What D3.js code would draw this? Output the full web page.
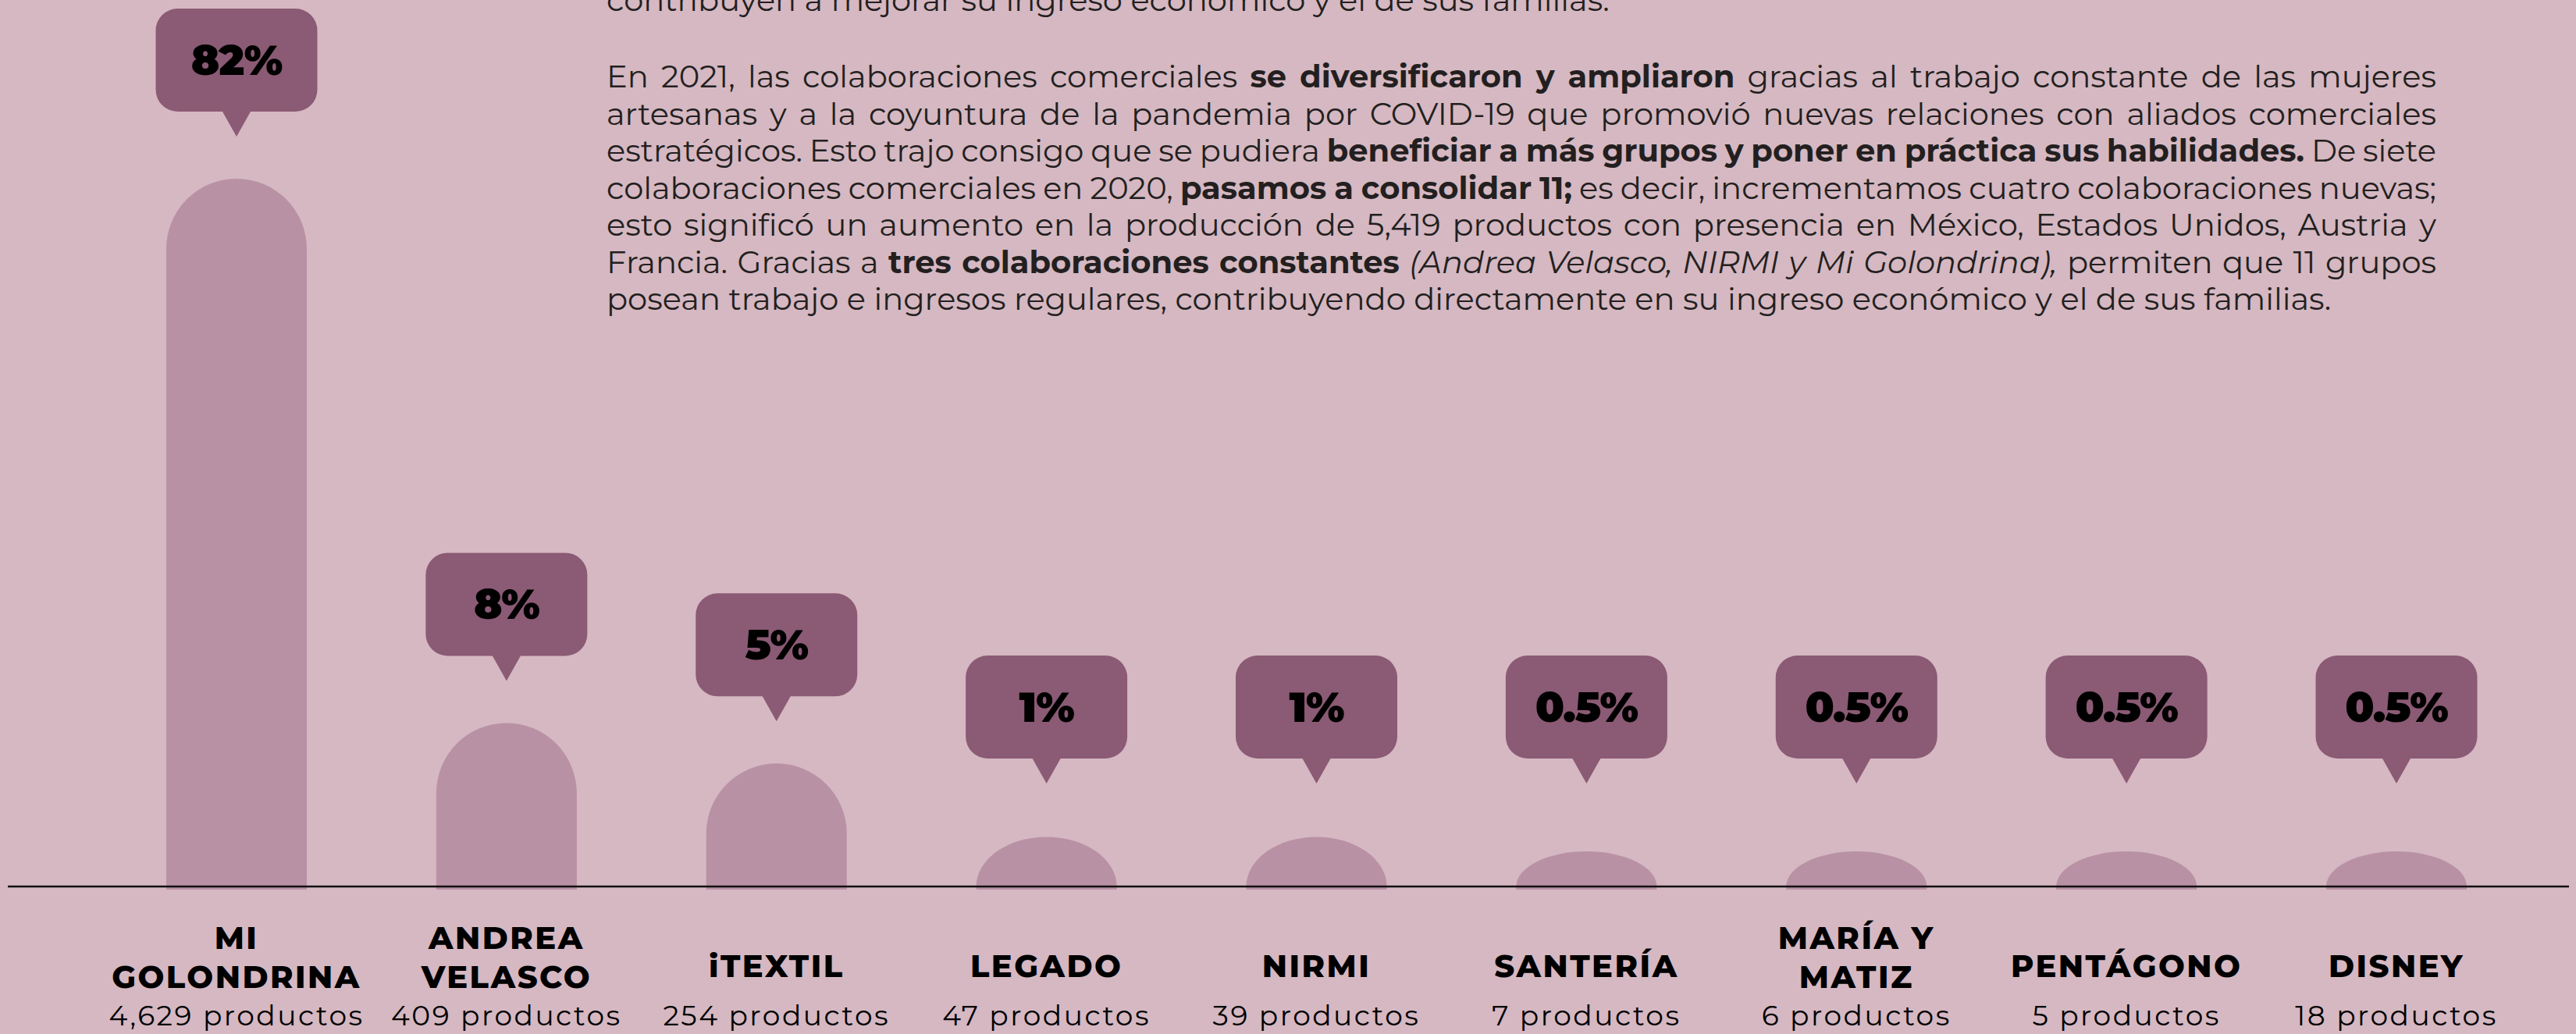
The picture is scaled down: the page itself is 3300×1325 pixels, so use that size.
<!DOCTYPE html>
<html>
<head>
<meta charset="utf-8">
<script src="https://cdn.jsdelivr.net/npm/d3@7"></script>
<style>
  html, body { margin: 0; padding: 0; background: #d5b8c2; overflow: hidden; }
</style>
</head>
<body>
<div id="chart"></div>
<script>
// collaborations, share of production and number of products
const categories = ['MI\nGOLONDRINA', 'ANDREA\nVELASCO', 'iTEXTIL', 'LEGADO', 'NIRMI', 'SANTERÍA', 'MARÍA Y\nMATIZ', 'PENTÁGONO', 'DISNEY'];
const shares = [82, 8, 5, 1, 1, 0.5, 0.5, 0.5, 0.5];
const products = [4629, 409, 254, 47, 39, 7, 6, 5, 18];

// text above the chart (n = normal, b = bold, i = italic)
const introLine = 'contribuyen a mejorar su ingreso económico y el de sus familias.';
const paragraphLines = [
  [['En 2021, las colaboraciones comerciales ', 'n'], ['se diversificaron y ampliaron', 'b'], [' gracias al trabajo constante de las mujeres', 'n']],
  [['artesanas y a la coyuntura de la pandemia por COVID-19 que promovió nuevas relaciones con aliados comerciales', 'n']],
  [['estratégicos. Esto trajo consigo que se pudiera ', 'n'], ['beneficiar a más grupos y poner en práctica sus habilidades.', 'b'], [' De siete', 'n']],
  [['colaboraciones comerciales en 2020, ', 'n'], ['pasamos a consolidar 11;', 'b'], [' es decir, incrementamos cuatro colaboraciones nuevas;', 'n']],
  [['esto significó un aumento en la producción de 5,419 productos con presencia en México, Estados Unidos, Austria y', 'n']],
  [['Francia. Gracias a ', 'n'], ['tres colaboraciones constantes', 'b'], [' ', 'n'], ['(Andrea Velasco, NIRMI y Mi Golondrina),', 'i'], [' permiten que 11 grupos', 'n']],
  [['posean trabajo e ingresos regulares, contribuyendo directamente en su ingreso económico y el de sus familias.', 'n']]
];

const W = 3300, H = 1325;
const baseline = 1136;
const bgColor = '#d5b8c2', barColor = '#b991a4', bubbleColor = '#8b5a74', inkColor = '#231f20';
const textFont = "Montserrat, 'Open Sans', sans-serif";

const rows = categories.map((c, i) => ({ name: c, share: shares[i], products: products[i] }));

const svg = d3.select('#chart').append('svg')
  .attr('width', W)
  .attr('height', H);

svg.append('rect').attr('width', W).attr('height', H).attr('fill', bgColor);

// ---- paragraph ----
const textX = 777, textW = 2344, firstBase = 112, lineH = 47.5;
const para = svg.append('g')
  .attr('font-family', textFont)
  .attr('font-size', 34)
  .attr('fill', inkColor);

// last line of the previous paragraph, cut by the top edge as in the original
para.append('text').attr('x', textX).attr('y', 14).text(introLine);

const lines = paragraphLines.map((segs, i) => {
  const t = para.append('text').attr('x', textX).attr('y', firstBase + i * lineH);
  segs.forEach(([str, st]) => {
    t.append('tspan')
      .text(str)
      .attr('font-weight', st === 'b' ? 700 : null)
      .attr('font-style', st === 'i' ? 'italic' : null);
  });
  return t;
});

// fit the font size so the last (unjustified) line has the width seen in the picture
const lastNode = lines[lines.length - 1].node();
const fs = 34 * 2210 / lastNode.getComputedTextLength();
para.attr('font-size', fs);

// justify the other lines with word spacing
lines.slice(0, -1).forEach((t, i) => {
  const str = paragraphLines[i].map(s => s[0]).join('');
  const spaces = (str.match(/ /g) || []).length;
  const w = t.node().getComputedTextLength();
  t.attr('word-spacing', (textW - w) / spaces);
});

// ---- scales ----
const x = d3.scalePoint().domain(categories).range([303, 3070]);
const y = d3.scalePow().exponent(0.65).domain([0.5, 82]).range([baseline - 45, 229]);
const barW = 180;

function archPath(cx, top) {
  const r = barW / 2, ry = Math.min(r, baseline - top), bottom = baseline + 4;
  return `M${cx - r},${bottom}V${top + ry}A${r},${ry} 0 0 1 ${cx + r},${top + ry}V${bottom}Z`;
}

function bubblePath(cx, tip) {
  const bw = 207, bh = 132, r = 28, th = 32, tw = 18;
  const b = tip - th, t = b - bh, l = cx - bw / 2, rt = cx + bw / 2;
  return `M${l + r},${t}H${rt - r}A${r},${r} 0 0 1 ${rt},${t + r}V${b - r}A${r},${r} 0 0 1 ${rt - r},${b}` +
    `H${cx + tw}L${cx},${tip}L${cx - tw},${b}H${l + r}A${r},${r} 0 0 1 ${l},${b - r}V${t + r}A${r},${r} 0 0 1 ${l + r},${t}Z`;
}

const tipY = d => Math.min(y(d.share) - 54, baseline - 132);

// ---- bars ----
svg.append('g').selectAll('.bar')
  .data(rows)
  .join('path')
  .attr('class', 'bar')
  .attr('d', d => archPath(x(d.name), y(d.share)))
  .attr('fill', barColor);

// ---- baseline ----
svg.append('line')
  .attr('x1', 10).attr('x2', 3291)
  .attr('y1', baseline).attr('y2', baseline)
  .attr('stroke', '#111')
  .attr('stroke-width', 2.5);

// ---- bubbles ----
const bub = svg.append('g').selectAll('.bubble')
  .data(rows)
  .join('g')
  .attr('class', 'bubble');

bub.append('path')
  .attr('d', d => bubblePath(x(d.name), tipY(d)))
  .attr('fill', bubbleColor);

bub.append('text')
  .attr('x', d => x(d.name))
  .attr('y', d => tipY(d) - 32 - 66 + 19)
  .attr('text-anchor', 'middle')
  .attr('font-family', textFont)
  .attr('font-weight', 900)
  .attr('font-size', 54)
  .attr('letter-spacing', -1)
  .attr('fill', '#000')
  .text(d => d.share + '%');

// ---- category labels ----
const fmt = d3.format(',');
const lbl = svg.append('g')
  .attr('text-anchor', 'middle')
  .attr('fill', '#000')
  .selectAll('.label')
  .data(rows)
  .join('g')
  .attr('class', 'label');

lbl.each(function (d) {
  const g = d3.select(this);
  const parts = d.name.split('\n');
  parts.forEach((p, i) => {
    g.append('text')
      .attr('x', x(d.name))
      .attr('y', parts.length === 2 ? 1216 + i * 50 : 1252)
      .attr('font-family', textFont)
      .attr('font-weight', 800)
      .attr('font-size', 40)
      .attr('letter-spacing', 2.5)
      .text(p);
  });
  g.append('text')
    .attr('x', x(d.name))
    .attr('y', 1314)
    .attr('font-family', textFont)
    .attr('font-size', 36)
    .attr('letter-spacing', 2.5)
    .text(fmt(d.products) + ' productos');
});
</script>
</body>
</html>
